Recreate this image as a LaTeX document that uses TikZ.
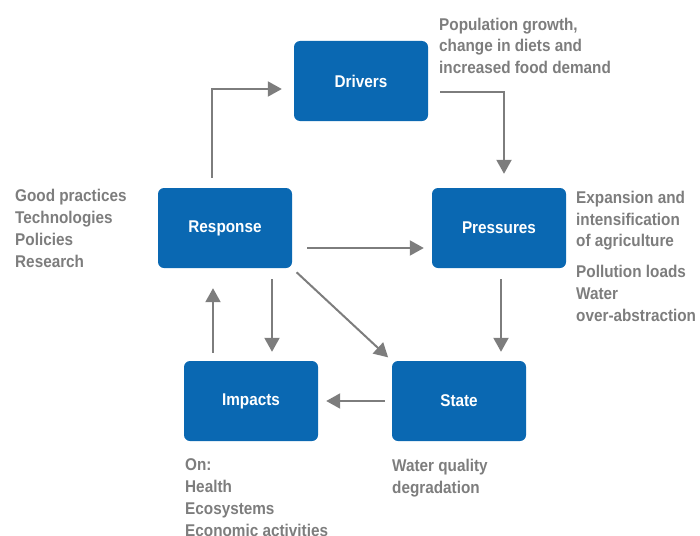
\documentclass[tikz,border=0pt]{standalone}
\usepackage{fontspec}
\setmainfont{Liberation Sans}[FakeStretch=0.9]
\usepackage{tikz}
\usetikzlibrary{arrows.meta,positioning}
\definecolor{dpsirblue}{RGB}{10,104,178}
\definecolor{dpsirgrey}{RGB}{125,125,125}

\begin{document}
\begin{tikzpicture}[
    x=1pt, y=-1pt,
    stage/.style={rectangle, rounded corners=6pt, fill=dpsirblue, text=white,
                  minimum width=134pt, minimum height=80pt, inner sep=0pt,
                  font=\fontsize{17}{21.7}\selectfont\bfseries},
    note/.style={text=dpsirgrey, align=left, anchor=base west, inner sep=0pt,
                 font=\fontsize{17}{21.7}\selectfont\bfseries},
    flow/.style={draw=dpsirgrey, line width=2pt, -{Triangle[length=14pt,width=15pt]}}
]
    \useasboundingbox (0,0) rectangle (700,535);
    % the five DPSIR boxes
    \node[stage] (drv)  at (361,81)  {Drivers};
    \node[stage] (pres) at (499,228) {Pressures};
    \node[stage] (resp) at (225,228) {Response};
    \node[stage] (imp)  at (251,401) {Impacts};
    \node[stage] (stat) at (459,401) {State};
    % notes next to the boxes (placed by the baseline of their last line)
    \node[note] (drvnote)  at (439,73.5)  {Population growth,\\change in diets and\\increased food demand};
    \node[note] (respnote) at (15,267)    {Good practices\\Technologies\\Policies\\Research};
    \node[note] (presnote) at (576,321)   {Expansion and\\intensification\\of agriculture\\[9pt]Pollution loads\\Water\\over-abstraction};
    \node[note] (impnote)  at (185,536)   {On:\\Health\\Ecosystems\\Economic activities};
    \node[note] (statnote) at (392,493.5) {Water quality\\degradation};
    % connectors
    \draw[flow, shorten <=10pt, shorten >=12pt] ([xshift=-13pt]resp.north) |- ([yshift=-8pt]drv.west);
    \draw[flow, shorten <=12pt, shorten >=14pt] ([yshift=-11pt]drv.east) -| ([xshift=5pt]pres.north);
    \draw[flow, shorten <=15pt, shorten >=8pt] ([yshift=-20pt]resp.east) -- ([yshift=-20pt]pres.west);
    \draw[flow, shorten <=6pt, shorten >=5pt] (resp.south east) -- (stat.north west);
    \draw[flow, shorten <=11pt, shorten >=9pt] ([xshift=47pt]resp.south) -- ([xshift=21pt]imp.north);
    \draw[flow, shorten <=8pt, shorten >=20pt] ([xshift=-38pt]imp.north) -- ([xshift=-12pt]resp.south);
    \draw[flow, shorten <=11pt, shorten >=9pt] ([xshift=2pt]pres.south) -- ([xshift=42pt]stat.north);
    \draw[flow, shorten <=7pt, shorten >=8pt] (stat.west) -- (imp.east);
\end{tikzpicture}
\end{document}
